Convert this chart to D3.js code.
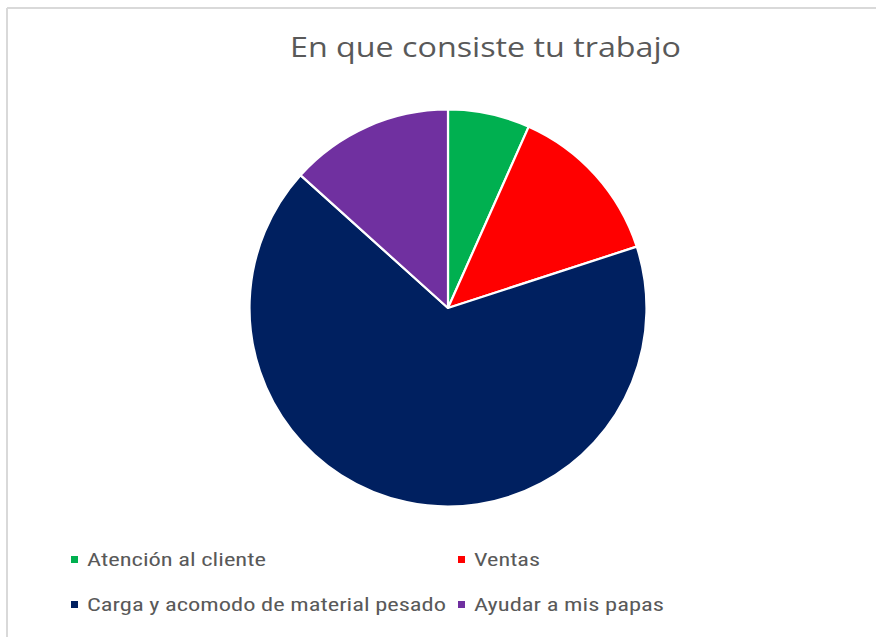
<!DOCTYPE html>
<html>
<head>
<meta charset="utf-8">
<script src="https://cdn.jsdelivr.net/npm/d3@7/dist/d3.min.js"></script>
<style>
  html, body { margin: 0; padding: 0; background: #fff; }
  svg { display: block; }
</style>
</head>
<body>
<svg id="chart" width="876" height="637"></svg>
<script>
const categories = ["Atención al cliente", "Ventas", "Carga y acomodo de material pesado", "Ayudar a mis papas"];
const values = [1, 2, 10, 2];
const colors = ["#00B050", "#FF0000", "#002060", "#7030A0"];
const title = "En que consiste tu trabajo";

const svg = d3.select("#chart");
const W = 876, H = 637;

// frame (top and left border)
svg.append("line").attr("x1", 7).attr("y1", 8).attr("x2", W).attr("y2", 8)
  .attr("stroke", "#d9d9d9").attr("stroke-width", 2);
svg.append("line").attr("x1", 7).attr("y1", 8).attr("x2", 7).attr("y2", H)
  .attr("stroke", "#d9d9d9").attr("stroke-width", 2);

// title
svg.append("text")
  .attr("x", 290).attr("y", 57)
  .attr("font-family", "'Open Sans', 'Noto Sans', sans-serif")
  .attr("font-size", 28)
  .attr("fill", "#595959")
  .attr("textLength", 391)
  .attr("lengthAdjust", "spacingAndGlyphs")
  .text(title);

// pie
const cx = 448, cy = 308, r = 198.5;
const data = categories.map((c, i) => ({ cat: c, value: values[i], color: colors[i] }));
const pie = d3.pie().value(d => d.value).sort(null);
const arc = d3.arc().innerRadius(0).outerRadius(r);
svg.append("g").attr("transform", `translate(${cx},${cy})`)
  .selectAll("path").data(pie(data)).join("path")
  .attr("d", arc)
  .attr("fill", d => d.data.color)
  .attr("stroke", "#fff")
  .attr("stroke-width", 2.2)
  .attr("stroke-linejoin", "round");

// legend
const legendPos = [
  { x: 71, y: 566, w: 179 },
  { x: 458, y: 566, w: 66 },
  { x: 71, y: 611, w: 359 },
  { x: 458, y: 611, w: 190 }
];
const lg = svg.append("g");
data.forEach((d, i) => {
  const p = legendPos[i];
  lg.append("rect").attr("x", p.x).attr("y", p.y - 10).attr("width", 7).attr("height", 7)
    .attr("fill", d.color);
  lg.append("text")
    .attr("x", p.x + 16).attr("y", p.y)
    .attr("font-family", "'Liberation Sans Narrow', 'Roboto Condensed', 'Noto Sans', sans-serif")
    .attr("font-size", 19)
    .attr("fill", "#595959")
    .attr("textLength", p.w)
    .attr("lengthAdjust", "spacingAndGlyphs")
    .text(d.cat);
});
</script>
</body>
</html>
